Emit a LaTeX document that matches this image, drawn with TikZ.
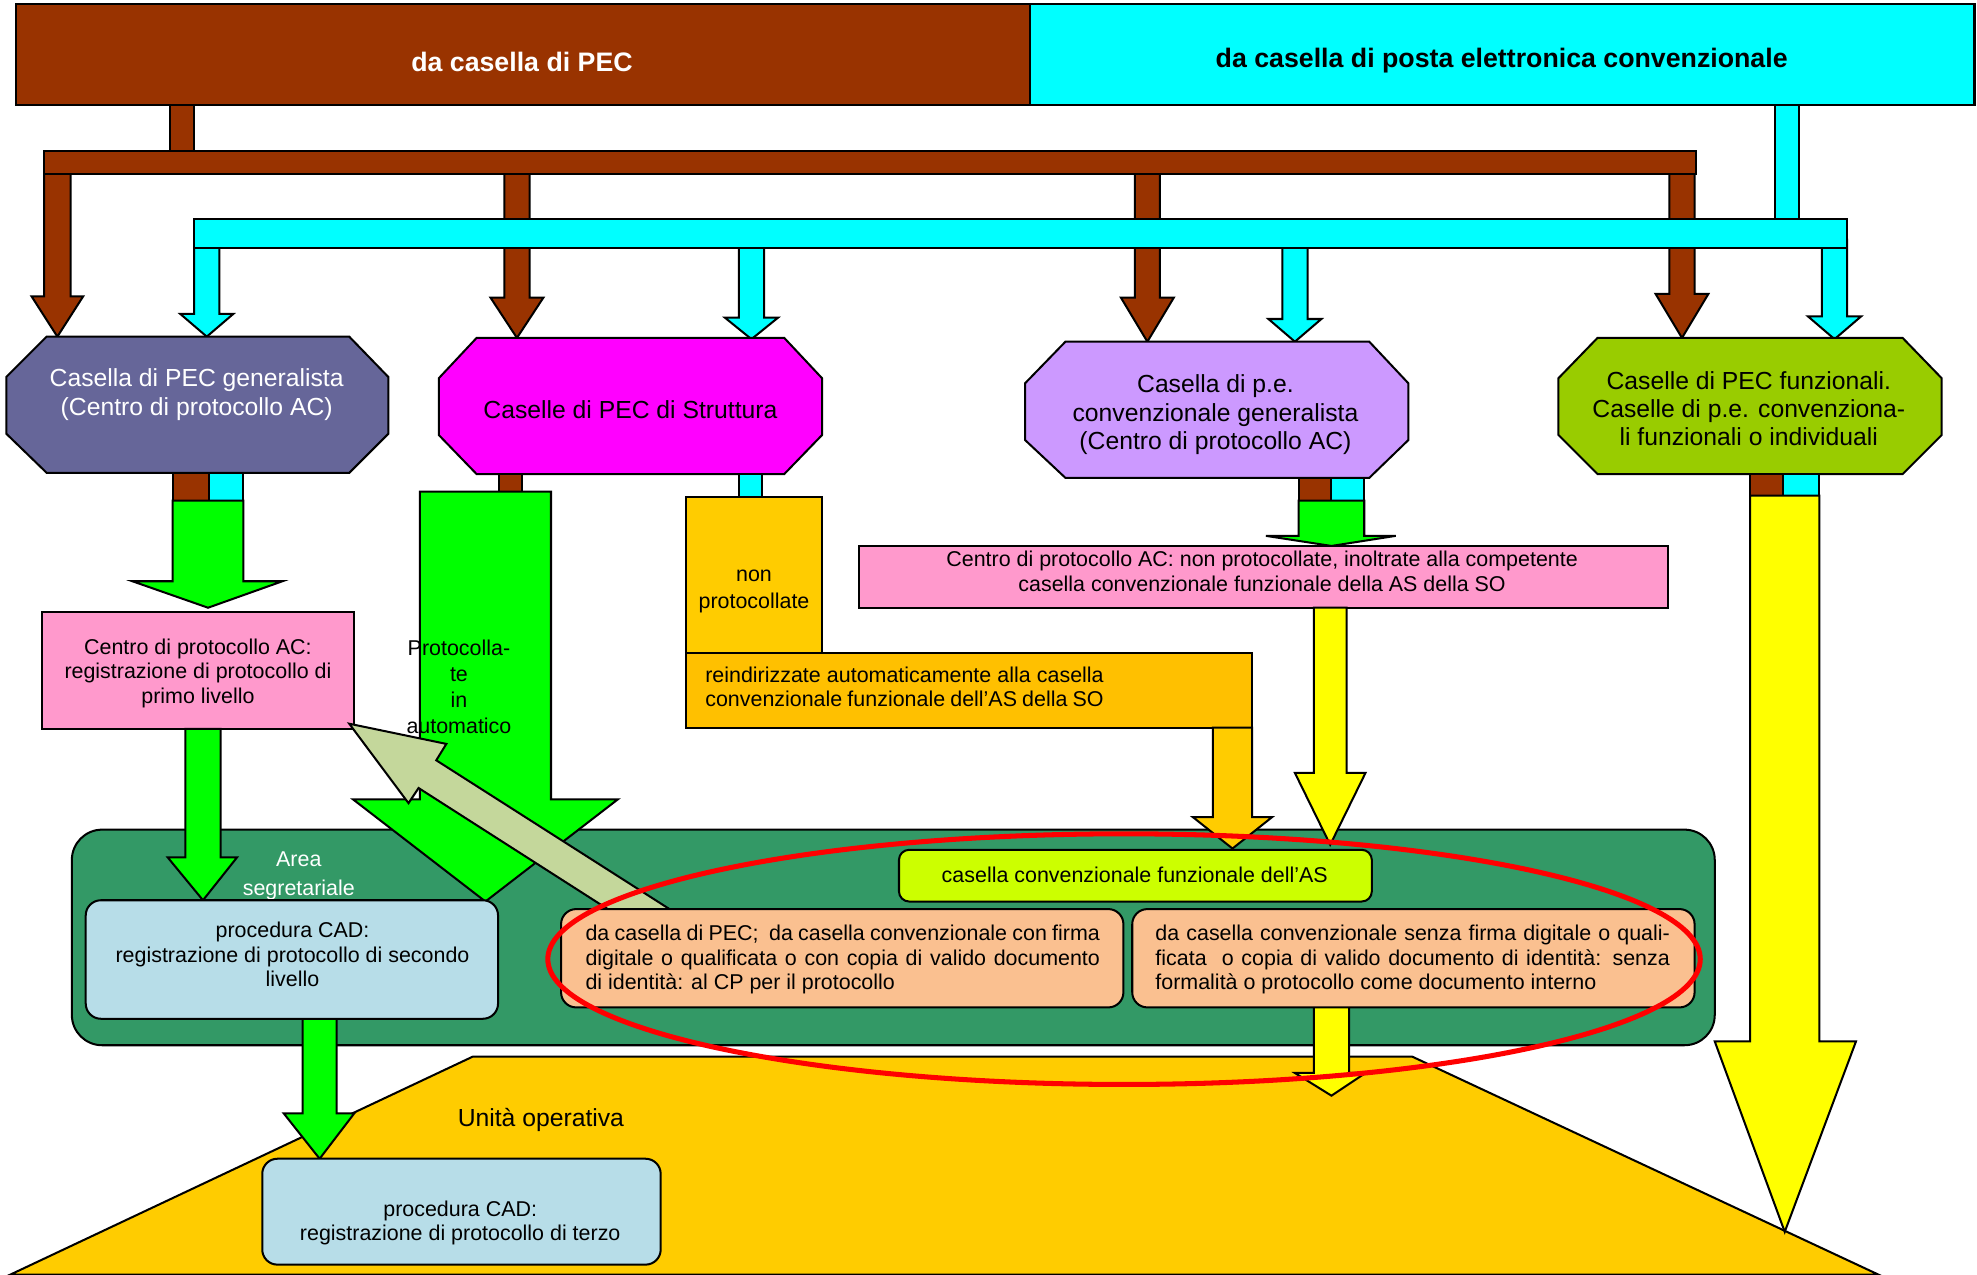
\documentclass[tikz,border=0pt]{standalone}
\usepackage{fontspec}
\setmainfont{Liberation Sans}

\definecolor{pecbrown}{HTML}{993300}
\definecolor{pecyan}{HTML}{00FFFF}
\definecolor{slatebox}{HTML}{666699}
\definecolor{magbox}{HTML}{FF00FF}
\definecolor{lavbox}{HTML}{CC99FF}
\definecolor{olivebox}{HTML}{99CC00}
\definecolor{brightgreen}{HTML}{00FF00}
\definecolor{pinkbox}{HTML}{FF99CC}
\definecolor{goldbox}{HTML}{FFCC00}
\definecolor{amberbox}{HTML}{FFC000}
\definecolor{yelbox}{HTML}{FFFF00}
\definecolor{areagreen}{HTML}{339966}
\definecolor{paleblue}{HTML}{B7DDE8}
\definecolor{limebox}{HTML}{CCFF00}
\definecolor{peachbox}{HTML}{FAC090}
\definecolor{sagebox}{HTML}{C4D79B}

% down-pointing block arrow: fill, body left, body right, top, head start, head left, head right, tip
\newcommand\dnarrow[8]{%
  \filldraw[blk,fill=#1] (#2,#4) -- (#3,#4) -- (#3,#5) -- (#7,#5)
    -- ({(#2+#3)/2},#8) -- (#6,#5) -- (#2,#5) -- cycle;}
% octagon: fill, left, right, top, bottom, inner left, inner right, side top, side bottom
\newcommand\octo[9]{%
  \filldraw[blk,fill=#1] (#6,#4) -- (#7,#4) -- (#3,#8) -- (#3,#9)
    -- (#7,#5) -- (#6,#5) -- (#2,#9) -- (#2,#8) -- cycle;}

\begin{document}
\begin{tikzpicture}[x=0.5pt,y=-0.5pt,
  blk/.style={draw=black,line width=0.8pt,line join=miter},
  title/.style={font=\fontsize{10.6}{12}\selectfont\bfseries,inner sep=0pt},
  octtxt/.style={font=\fontsize{9.8}{11.2}\selectfont,align=center,inner sep=0pt},
  txt/.style={font=\fontsize{8.5}{9.75}\selectfont,align=center,inner sep=0pt},
  ltxt/.style={font=\fontsize{8.5}{9.6}\selectfont,align=left,inner sep=0pt,anchor=west}]
\useasboundingbox (0,0) rectangle (1568,1011);

% sources
\filldraw[blk,fill=pecbrown] (13,3) rectangle (817,83);
\filldraw[blk,fill=pecyan] (817,3) rectangle (1566,83);
\node[title,text=white] (srcpec) at (414,49) {da casella di PEC};
\node[title] (srcpe) at (1191,48) {da casella di posta elettronica convenzionale};

% distribution bars
\filldraw[blk,fill=pecbrown] (135,83) rectangle (154,121);
\filldraw[blk,fill=pecyan] (1408,83) rectangle (1427,175);
\dnarrow{pecbrown}{35}{56}{130}{235}{25}{66}{267}
\dnarrow{pecbrown}{400}{420}{130}{236}{389}{431}{268}
\dnarrow{pecbrown}{900}{920}{130}{236}{889}{931}{271}
\dnarrow{pecbrown}{1324}{1344}{130}{233}{1313}{1355}{268}
\filldraw[blk,fill=pecbrown] (35,120) rectangle (1345,138);
\dnarrow{pecyan}{154}{174}{190}{249}{143}{185}{267}
\dnarrow{pecyan}{586}{606}{190}{252}{575}{617}{269}
\dnarrow{pecyan}{1017}{1037}{190}{253}{1006}{1048}{271}
\dnarrow{pecyan}{1445}{1465}{190}{251}{1434}{1476}{269}
\filldraw[blk,fill=pecyan] (154,174) rectangle (1465,197);

% mailboxes
\octo{slatebox}{5}{308}{267}{375}{37}{277}{299}{344}
\octo{magbox}{348}{652}{268}{376}{378}{622}{300}{345}
\octo{lavbox}{813}{1117}{271}{379}{845}{1086}{304}{349}
\octo{olivebox}{1236}{1540}{268}{376}{1267}{1509}{300}{345}
\node[octtxt,text=white] (gen) at (156,313) {Casella di PEC generalista\\(Centro di protocollo AC)};
\node[octtxt] (struct) at (500,325) {Caselle di PEC di Struttura};
\node[octtxt] (conv) at (964,329) {Casella di p.e.\\convenzionale generalista\\(Centro di protocollo AC)};
\node[octtxt] (funz) at (1387,324) {Caselle di PEC funzionali.\\Caselle di p.e. convenziona-\\li funzionali o individuali};

% outlets under the mailboxes
\filldraw[blk,fill=pecbrown] (137,375) rectangle (166,397);
\filldraw[blk,fill=pecyan] (166,375) rectangle (193,397);
\filldraw[blk,fill=pecbrown] (396,376) rectangle (414,390);
\filldraw[blk,fill=pecyan] (586,376) rectangle (604,394);
\filldraw[blk,fill=pecbrown] (1030,379) rectangle (1056,397);
\filldraw[blk,fill=pecyan] (1056,379) rectangle (1082,397);
\filldraw[blk,fill=pecbrown] (1388,376) rectangle (1414,393);
\filldraw[blk,fill=pecyan] (1414,376) rectangle (1443,393);

% first-level protocol
\dnarrow{brightgreen}{137}{193}{397}{461}{105}{224}{482}
\filldraw[blk,fill=pinkbox] (33,485) rectangle (281,578);
\node[txt] (cp1) at (157,534) {Centro di protocollo AC:\\registrazione di protocollo di\\primo livello};

% structure mailbox, not protocolled
\filldraw[blk,fill=goldbox] (544,394) rectangle (652,518);
\node[txt,font=\fontsize{8.5}{11}\selectfont] (nonprot) at (598,469) {non\\protocollate};
\filldraw[blk,fill=amberbox] (544,518) rectangle (993,577);
\node[ltxt] (redir) at (559,545) {\makebox[158pt][s]{reindirizzate automaticamente alla casella}\\\makebox[158pt][s]{convenzionale funzionale dell’AS della SO}};

% conventional generalist mailbox
\dnarrow{brightgreen}{1030}{1082}{397}{425}{1004}{1107}{433}
\filldraw[blk,fill=pinkbox] (681,433) rectangle (1323,482);
\node[txt] (cp2) at (1001,453) {Centro di protocollo AC: non protocollate, inoltrate alla competente\\casella convenzionale funzionale della AS della SO};

% operative unit and secretarial area
\filldraw[blk,fill=goldbox] (8,1011) -- (375,838) -- (1120,838) -- (1490,1011) -- cycle;
\node[font=\fontsize{9.8}{11.2}\selectfont,inner sep=0pt] (uo) at (429,888) {Unità operativa};
\filldraw[blk,fill=areagreen,rounded corners=12pt] (57,658) rectangle (1360,829);
\node[txt,text=white,font=\fontsize{8.5}{11.5}\selectfont] (area) at (237,695) {Area\\segretariale};

% flows into the area
\dnarrow{brightgreen}{147}{175}{578}{680}{133}{188}{714}
\dnarrow{brightgreen}{333}{437}{390}{634}{280}{490}{715}
\node[txt,font=\fontsize{8.5}{10.3}\selectfont] (auto) at (364,545) {Protocolla-\\te\\in\\automatico};
\dnarrow{goldbox}{962}{993}{577}{648}{946}{1009}{673}
\dnarrow{yelbox}{1042}{1068}{482}{613}{1027}{1083}{670}
\dnarrow{yelbox}{1388}{1443}{393}{826}{1360}{1472}{977}
\dnarrow{yelbox}{1042}{1070}{790}{851}{1027}{1083}{869}
\dnarrow{brightgreen}{240}{267}{800}{883}{225}{281}{919}
\filldraw[blk,fill=sagebox] (277,574) -- (354,590) -- (346,603) -- (531,721)
  -- (482,721) -- (332,625) -- (324,637) -- cycle;

% boxes inside the area
\filldraw[blk,fill=paleblue,rounded corners=6pt] (68,714) rectangle (395,808);
\node[txt] (cad2) at (232,757) {procedura CAD:\\registrazione di protocollo di secondo\\livello};
\filldraw[blk,fill=limebox,rounded corners=4pt] (713,674) rectangle (1088,715);
\node[txt] (asbox) at (900,694) {casella convenzionale funzionale dell’AS};
\filldraw[blk,fill=peachbox,rounded corners=6pt] (445,721) rectangle (891,799);
\node[ltxt] (tocp) at (464,761) {\makebox[204pt][s]{da casella di PEC;\ \ da casella convenzionale con firma}\\\makebox[204pt][s]{digitale o qualificata o con copia di valido documento}\\di identità: al CP per il protocollo};
\filldraw[blk,fill=peachbox,rounded corners=6pt] (898,721) rectangle (1344,799);
\node[ltxt] (noform) at (916,761) {\makebox[204pt][s]{da casella convenzionale senza firma digitale o quali-}\\\makebox[204pt][s]{ficata\ \ o copia di valido documento di identità: senza}\\formalità o protocollo come documento interno};

% third-level box
\filldraw[blk,fill=paleblue,rounded corners=6pt] (208,919) rectangle (524,1003);
\node[txt] (cad3) at (365,970) {procedura CAD:\\registrazione di protocollo di terzo};

% highlight
\draw[red,line width=2pt] (891.5,760.7) ellipse [x radius=228.5pt,y radius=49.7pt];
\end{tikzpicture}
\end{document}
